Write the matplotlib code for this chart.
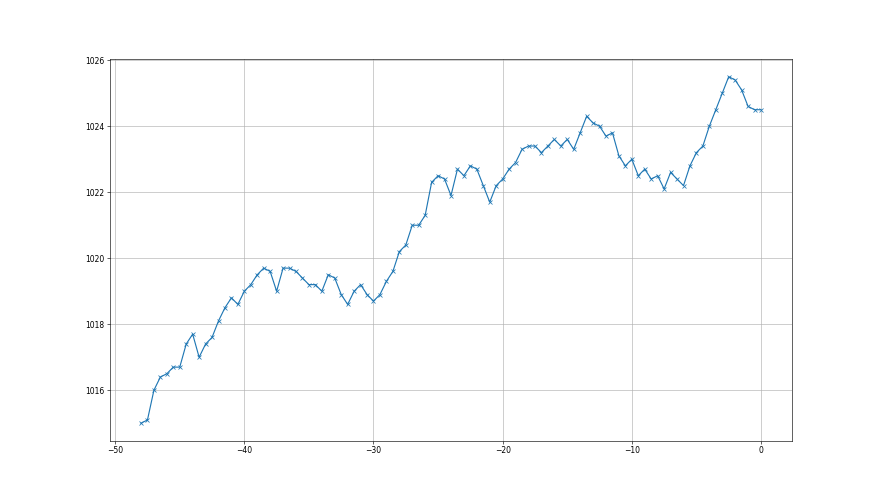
import numpy as np
import matplotlib
matplotlib.use("Agg")
import matplotlib.pyplot as plt

hours = [-48 + 0.5 * i for i in range(97)]
pressure = [
    1015.0, 1015.1, 1016.0, 1016.4, 1016.5, 1016.7, 1016.7, 1017.4, 1017.7, 1017.0,
    1017.4, 1017.6, 1018.1, 1018.5, 1018.8, 1018.6, 1019.0, 1019.2, 1019.5, 1019.7,
    1019.6, 1019.0, 1019.7, 1019.7, 1019.6, 1019.4, 1019.2, 1019.2, 1019.0, 1019.5,
    1019.4, 1018.9, 1018.6, 1019.0, 1019.2, 1018.9, 1018.7, 1018.9, 1019.3, 1019.6,
    1020.2, 1020.4, 1021.0, 1021.0, 1021.3, 1022.3, 1022.5, 1022.4, 1021.9, 1022.7,
    1022.5, 1022.8, 1022.7, 1022.2, 1021.7, 1022.2, 1022.4, 1022.7, 1022.9, 1023.3,
    1023.4, 1023.4, 1023.2, 1023.4, 1023.6, 1023.4, 1023.6, 1023.3, 1023.8, 1024.3,
    1024.1, 1024.0, 1023.7, 1023.8, 1023.1, 1022.8, 1023.0, 1022.5, 1022.7, 1022.4,
    1022.5, 1022.1, 1022.6, 1022.4, 1022.2, 1022.8, 1023.2, 1023.4, 1024.0, 1024.5,
    1025.0, 1025.5, 1025.4, 1025.1, 1024.6, 1024.5, 1024.5,
]

fig, ax = plt.subplots(figsize=(16, 9), dpi=55)
ax.plot(hours, pressure, marker='x', color='#1f77b4', linewidth=1.5, markersize=6)
ax.grid(True, color='#b0b0b0', linewidth=0.8)
ax.set_axisbelow(True)
fig.savefig("out.png", dpi=55)
